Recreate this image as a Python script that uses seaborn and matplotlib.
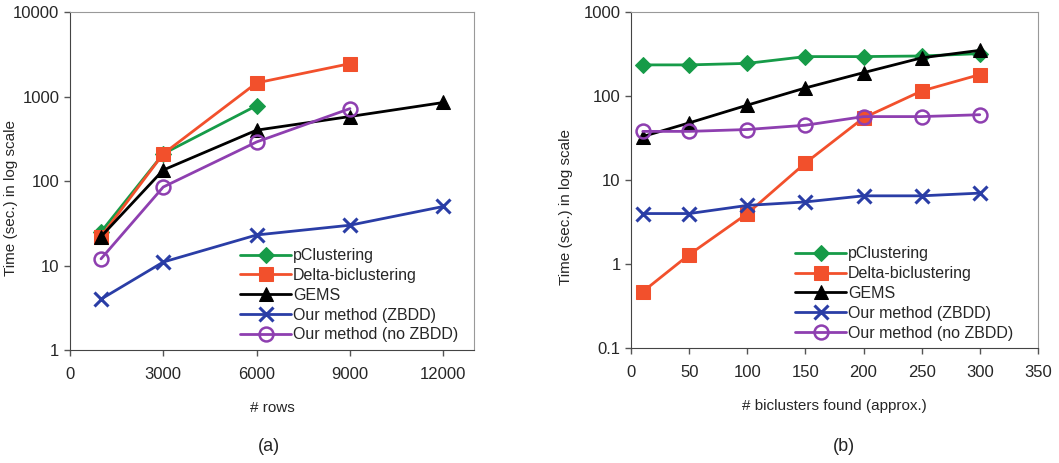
import numpy as np
import pandas as pd
import seaborn as sns
import matplotlib.pyplot as plt
from matplotlib.ticker import FixedLocator, NullLocator, FixedFormatter

# Dane - wykres (a)
rows_x = [1000, 3000, 6000, 9000, 12000]
a_pclust = [25, 210, 780]
a_delta = [22, 210, 1450, 2450]
a_gems = [22, 135, 400, 580, 850]
a_zbdd = [4, 11, 23, 30, 50]
a_nozbdd = [12, 85, 290, 720]

# Dane - wykres (b)
bic_x = [10, 50, 100, 150, 200, 250, 300]
b_pclust = [235, 235, 245, 295, 295, 300, 320]
b_delta = [0.47, 1.3, 4, 16, 55, 115, 180]
b_gems = [33, 48, 78, 125, 190, 285, 350]
b_zbdd = [4, 4, 5, 5.5, 6.5, 6.5, 7]
b_nozbdd = [38, 38, 40, 45, 57, 57, 60]

names = ['pClustering', 'Delta-biclustering', 'GEMS',
         'Our method (ZBDD)', 'Our method (no ZBDD)']
colors = ['#169b48', '#f2502c', '#000000', '#2a3da6', '#8e3fb0']
styles = [dict(marker='D', markersize=8),
          dict(marker='s', markersize=10),
          dict(marker='^', markersize=10),
          dict(marker='x', markersize=10, markeredgewidth=2.2),
          dict(marker='o', markersize=10, markerfacecolor='none', markeredgewidth=1.8)]

sns.set_style('white')
plt.rcParams['font.family'] = ['Liberation Sans', 'DejaVu Sans']

fig = plt.figure(figsize=(10.59, 4.63), dpi=100)
ax_a = fig.add_axes([0.066, 0.244, 0.382, 0.730])
ax_b = fig.add_axes([0.596, 0.248, 0.384, 0.726])


def draw(ax, xs, series):
    for name, col, st, ys in zip(names, colors, styles, series):
        sns.lineplot(x=xs[:len(ys)], y=ys, ax=ax, color=col, linewidth=2,
                     label=name, markeredgecolor=col, **st)


draw(ax_a, rows_x, [a_pclust, a_delta, a_gems, a_zbdd, a_nozbdd])
draw(ax_b, bic_x, [b_pclust, b_delta, b_gems, b_zbdd, b_nozbdd])

for ax in (ax_a, ax_b):
    ax.set_yscale('log')
    ax.yaxis.set_minor_locator(NullLocator())
    ax.tick_params(axis='both', which='major', labelsize=12, direction='out',
                   length=4, width=1, color='#555555', left=True, bottom=True)
    ax.tick_params(axis='x', pad=8)
    for s in ('left', 'bottom'):
        ax.spines[s].set_color('#444444')
    for s in ('top', 'right'):
        ax.spines[s].set_color('#999999')
    ax.set_ylabel('Time (sec.) in log scale', fontsize=11)
    ax.legend(frameon=False, fontsize=11.5, handlelength=3.2,
              handletextpad=0.1, labelspacing=0.3, loc='lower right')

ax_a.set_xlim(0, 13000)
ax_a.set_xticks([0, 3000, 6000, 9000, 12000])
ax_a.set_ylim(1, 10000)
ax_a.yaxis.set_major_locator(FixedLocator([1, 10, 100, 1000, 10000]))
ax_a.yaxis.set_major_formatter(FixedFormatter(['1', '10', '100', '1000', '10000']))
ax_a.set_xlabel('# rows', fontsize=11, labelpad=14)
ax_a.yaxis.set_label_coords(-0.128, 0.45)
ax_a.legend_.set_bbox_to_anchor((0.995, -0.02))

ax_b.set_xlim(0, 350)
ax_b.set_xticks([0, 50, 100, 150, 200, 250, 300, 350])
ax_b.set_ylim(0.1, 1000)
ax_b.yaxis.set_major_locator(FixedLocator([0.1, 1, 10, 100, 1000]))
ax_b.yaxis.set_major_formatter(FixedFormatter(['0.1', '1', '10', '100', '1000']))
ax_b.set_xlabel('# biclusters found (approx.)', fontsize=11, labelpad=14)
ax_b.yaxis.set_label_coords(-0.142, 0.42)
ax_b.legend_.set_bbox_to_anchor((0.975, -0.02))

fig.text(0.254, 0.025, '(a)', fontsize=13, ha='center')
fig.text(0.797, 0.025, '(b)', fontsize=13, ha='center')

plt.savefig('out.png', dpi=100)
